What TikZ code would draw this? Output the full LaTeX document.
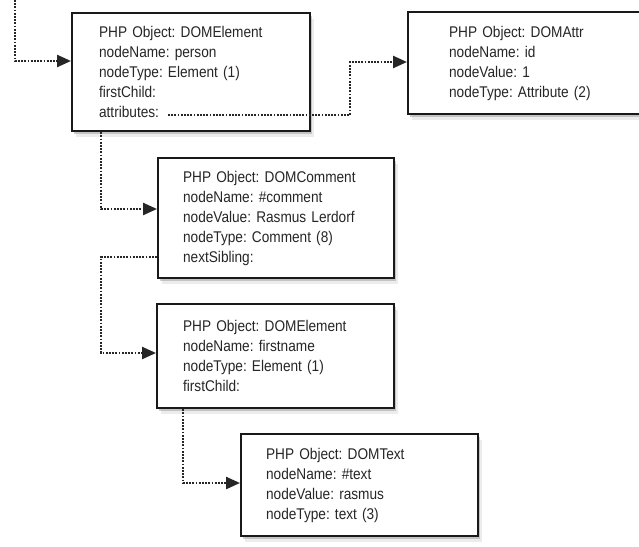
\documentclass[tikz,border=0pt]{standalone}
\usepackage{fontspec}
\setmainfont[FakeStretch=0.88]{Liberation Sans}
\frenchspacing
\usetikzlibrary{arrows.meta,shadows}
\begin{document}
\begin{tikzpicture}[x=1pt,y=-1pt,
  objbox/.style={draw=black!90, line width=2.2pt, fill=white, rectangle,
    anchor=north west, align=left, inner ysep=0pt, text=black!85,
    font=\fontsize{15.5}{20}\selectfont\frenchspacing,
    drop shadow={shadow xshift=2pt, shadow yshift=-3pt, opacity=0.3, fill=black!60},
    drop shadow={shadow xshift=4pt, shadow yshift=-6pt, opacity=0.12, fill=black!60}},
  conn/.style={draw=black!85, line width=2.4pt, dash pattern=on 1.8pt off 1.4pt,
    -{Triangle[length=14pt,width=12pt]}}]
\useasboundingbox[fill=white] (0,0) rectangle (639,546);

% boxes
\node[objbox, inner xsep=27pt, text width=184pt, minimum height=118pt] (b1) at (71,12)
  {PHP Object: DOMElement\\nodeName: person\\nodeType: Element (1)\\firstChild:\\attributes:};
\node[objbox, inner xsep=41pt, text width=165pt, minimum height=102pt] (at) at (407,11)
  {PHP Object: DOMAttr\\nodeName: id\\nodeValue: 1\\nodeType: Attribute (2)};
\node[objbox, inner xsep=25pt, text width=186pt, minimum height=120pt] (cm) at (157,157)
  {PHP Object: DOMComment\\nodeName: \#comment\\nodeValue: Rasmus Lerdorf\\nodeType: Comment (8)\\nextSibling:};
\node[objbox, inner xsep=26pt, text width=185pt, minimum height=104pt] (fn) at (156,303)
  {PHP Object: DOMElement\\nodeName: firstname\\nodeType: Element (1)\\firstChild:};
\node[objbox, inner xsep=25pt, text width=187pt, minimum height=102pt] (tx) at (240,433)
  {PHP Object: DOMText\\nodeName: \#text\\nodeValue: rasmus\\nodeType: text (3)};

% helper coordinates
\coordinate (in0) at (15,0);
\coordinate (y61) at (0,61);
\coordinate (k1) at (101,209);
\coordinate (attrs) at (168,115);
\coordinate (k2) at (350,62);
\coordinate (k3) at (101,257);
\coordinate (k4) at (101,353);
\coordinate (k5) at (183,483);

% connectors
\draw[conn] (in0) |- (b1.west |- y61);
\draw[conn] (b1.south -| k1) |- (cm.west |- k1);
\draw[conn] (attrs) -| (k2) -- (at.west |- k2);
\draw[conn] (cm.west |- k3) -- (k3) -- (k4) -- (fn.west |- k4);
\draw[conn] (fn.south -| k5) |- (tx.west |- k5);
\end{tikzpicture}
\end{document}
